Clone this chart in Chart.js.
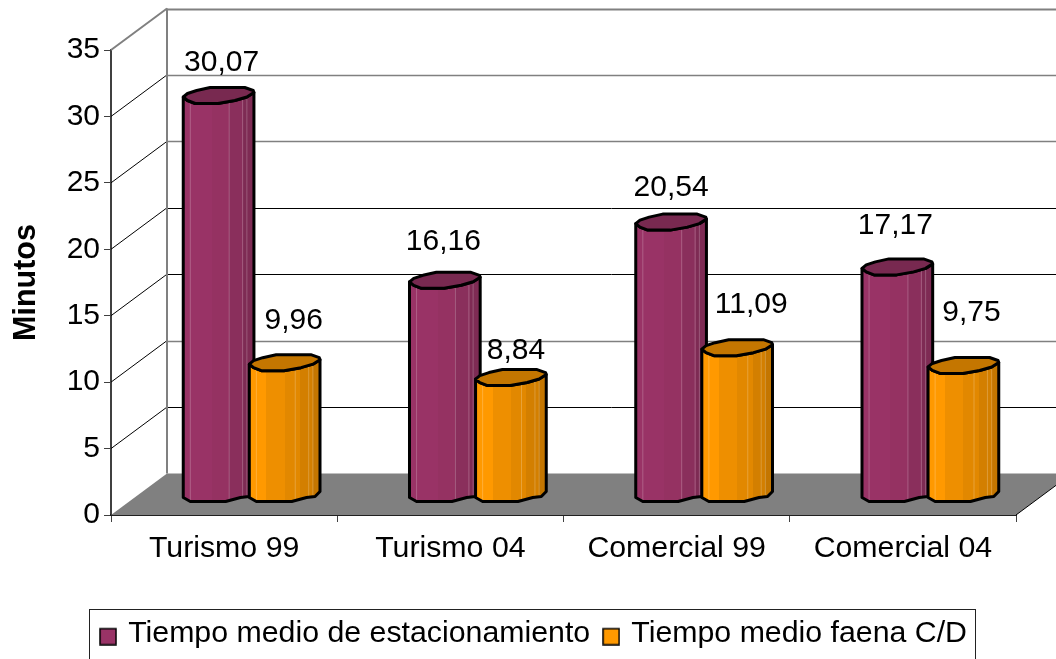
<!DOCTYPE html>
<html><head><meta charset="utf-8">
<style>html,body{margin:0;padding:0;background:#fff;overflow:hidden}canvas{display:block}</style>
<script src="https://cdn.jsdelivr.net/npm/chart.js@4/dist/chart.umd.min.js"></script>
</head><body>
<div style="width:1056px;height:659px"><canvas id="c" width="1056" height="659"></canvas></div>
<script>
const categories = ['Turismo 99', 'Turismo 04', 'Comercial 99', 'Comercial 04'];
const estacionamiento = [30.07, 16.16, 20.54, 17.17];
const faena = [9.96, 8.84, 11.09, 9.75];
const seriesNames = ['Tiempo medio de estacionamiento', 'Tiempo medio faena C/D'];
const seriesColors = ['#993366', '#FF9900'];
const rimColors = ['#782950', '#C47600'];
const stripColors = [
  [[0,'#993366'],[.4,'#953262'],[.65,'#8A2F5C'],[.85,'#7E2B54'],[1,'#732750']],
  [[0,'#FF9900'],[.24,'#EE8F00'],[.5,'#E28800'],[.72,'#D37F00'],[.9,'#C47600'],[1,'#C47600']]
];
const FONT = '"Liberation Sans", Arial, sans-serif';

// depth of the 3D box, px
const DEPTH_X = 56, DEPTH_Y = 41.5;
// bars stand part-way into the box
const BAR_DX = 27.5, BAR_DY = 20;
// hand placement of the value labels, in the original
const labelDX = [[3,-1.5,0,-2],[9,5,14,8]];
const labelDY = [[25,31,26,33],[34,19,35,45]];
const rimShape = [[0,1.5],[.06,-2],[.19,-5],[.38,-8],[.87,-8],[.99,-5],[1,-3],[.9,1.5],[.73,5],[.49,8],[.17,8],[.06,5]];
const footShape = [[1,-3],[.93,2],[.81,3],[.6,7],[.1,7],[0,3]];
const sheen = [.1,.65,.84,.9];

function marker(color){
  const m = document.createElement('canvas'); m.width = 18; m.height = 25;
  const g = m.getContext('2d');
  g.fillStyle = color; g.strokeStyle = '#000'; g.lineWidth = 1.5;
  g.fillRect(1,8,16,16); g.strokeRect(1,8,16,16);
  return m;
}

const scene = {
  id: 'scene',
  afterLayout(chart){
    const l = chart.legend;
    l.left += 27; l.right += 27; l.top = 602; l.bottom = 659;
  },
  beforeDatasetsDraw(chart){
    const {ctx, scales:{x, y}} = chart;
    const x0 = chart.chartArea.left, x1 = chart.chartArea.right, W = chart.width;
    const y0 = y.getPixelForValue(0);
    ctx.save();
    // floor
    ctx.fillStyle = '#808080';
    ctx.beginPath();
    ctx.moveTo(x0,y0); ctx.lineTo(x0+DEPTH_X,y0-DEPTH_Y); ctx.lineTo(x1+DEPTH_X,y0-DEPTH_Y); ctx.lineTo(x1,y0); ctx.closePath(); ctx.fill();
    // grid on the two walls
    y.ticks.forEach(t => {
      if (t.value === 0) return;
      const py = y.getPixelForValue(t.value);
      const top = t.value === y.max;
      ctx.strokeStyle = top ? '#808080' : '#000';
      ctx.lineWidth = top ? 2 : 1;
      ctx.beginPath();
      ctx.moveTo(x0,py); ctx.lineTo(x0+DEPTH_X,py-DEPTH_Y); ctx.stroke();
      ctx.strokeStyle = (top || t.value === 10 || t.value === 25 || t.value === 30) ? '#808080' : '#000';
      ctx.lineWidth = top ? 2 : (t.value === 10 || t.value === 25 || t.value === 30) ? 1.5 : 1;
      ctx.beginPath();
      ctx.moveTo(x0+DEPTH_X,Math.round(py-DEPTH_Y)+.5); ctx.lineTo(W,Math.round(py-DEPTH_Y)+.5); ctx.stroke();
    });
    ctx.strokeStyle = '#808080'; ctx.lineWidth = 2;
    ctx.beginPath();
    ctx.moveTo(x0+DEPTH_X,y.getPixelForValue(y.max)-DEPTH_Y); ctx.lineTo(x0+DEPTH_X,y0-DEPTH_Y); ctx.stroke();
    // front edge of the floor, right side
    ctx.strokeStyle = '#000'; ctx.lineWidth = 1;
    ctx.beginPath(); ctx.moveTo(x1,y0); ctx.lineTo(x1+DEPTH_X,y0-DEPTH_Y); ctx.stroke();

    // bars
    chart.data.datasets.forEach((ds,di) => {
      chart.getDatasetMeta(di).data.forEach(el => {
        const left = el.x + BAR_DX - el.width/2, w = el.width;
        const topY = el.y - BAR_DY, baseY = el.base - BAR_DY;
        const body = new Path2D();
        body.moveTo(left + w, topY - 3);
        footShape.forEach(p => body.lineTo(left + p[0]*w, baseY + p[1]));
        body.lineTo(left, topY + 1.5);
        [[.06,5],[.17,8],[.49,8],[.73,5],[.9,1.5]].forEach(p => body.lineTo(left + p[0]*w, topY + p[1]));
        body.closePath();
        const g = ctx.createLinearGradient(left,0,left+w,0);
        const st = stripColors[di];
        st.forEach((s,i) => {
          g.addColorStop(s[0], s[1]);
          if (i+1 < st.length) g.addColorStop(st[i+1][0], s[1]);
        });
        ctx.fillStyle = g; ctx.fill(body);
        ctx.save(); ctx.clip(body);
        ctx.strokeStyle = 'rgba(255,255,255,.22)'; ctx.lineWidth = 1;
        sheen.forEach(f => { ctx.beginPath(); ctx.moveTo(left+f*w,topY-10); ctx.lineTo(left+f*w,baseY+10); ctx.stroke(); });
        ctx.restore();
        ctx.strokeStyle = '#000'; ctx.lineWidth = 3; ctx.lineJoin = 'round';
        ctx.stroke(body);
        const rim = new Path2D();
        rimShape.forEach((p,i) => i ? rim.lineTo(left+p[0]*w, topY+p[1]) : rim.moveTo(left+p[0]*w, topY+p[1]));
        rim.closePath();
        ctx.fillStyle = rimColors[di]; ctx.fill(rim); ctx.stroke(rim);
      });
    });
    ctx.restore();
  },
  beforeDatasetDraw(){ return false; },
  afterDatasetsDraw(chart){
    const {ctx} = chart;
    ctx.save();
    ctx.fillStyle = '#000'; ctx.font = '30px ' + FONT; ctx.textAlign = 'center'; ctx.textBaseline = 'middle';
    chart.data.datasets.forEach((ds,di) => {
      chart.getDatasetMeta(di).data.forEach((el,i) => {
        const txt = ds.data[i].toFixed(2).replace('.', ',');
        ctx.fillText(txt, el.x + BAR_DX + labelDX[di][i], el.y - BAR_DY - 8 - labelDY[di][i]);
      });
    });
    ctx.restore();
  },
  afterDraw(chart){
    const {ctx} = chart;
    ctx.save();
    ctx.strokeStyle = '#222'; ctx.lineWidth = 1;
    ctx.strokeRect(89.5,609.5,886,70);
    ctx.restore();
  }
};

new Chart(document.getElementById('c'), {
  type: 'bar',
  data: {
    labels: categories,
    datasets: [
      {label: seriesNames[0], data: estacionamiento, backgroundColor: seriesColors[0], categoryPercentage: .584, barPercentage: 1.07},
      {label: seriesNames[1], data: faena, backgroundColor: seriesColors[1], categoryPercentage: .584, barPercentage: 1.07}
    ]
  },
  options: {
    responsive: false, animation: false,
    layout: {padding: {top: 50, right: 40, left: 0, bottom: 0}},
    font: {family: FONT},
    plugins: {
      tooltip: {enabled: false},
      legend: {
        position: 'bottom',
        labels: {
          color: '#000', font: {family: FONT, size: 30.3}, boxWidth: 10, padding: 16, usePointStyle: true,
          generateLabels: c => c.data.datasets.map((d,i) => ({
            text: d.label, datasetIndex: i, pointStyle: marker(seriesColors[i]), fontColor: '#000', lineWidth: 0, strokeStyle: 'transparent', fillStyle: seriesColors[i]
          }))
        }
      }
    },
    scales: {
      y: {
        min: 0, max: 35,
        ticks: {stepSize: 5, color: '#000', font: {family: FONT, size: 30}, padding: 4},
        grid: {drawOnChartArea: false, color: '#404040', tickLength: 7, lineWidth: 1},
        border: {color: '#404040', width: 2},
        title: {display: true, text: 'Minutos', color: '#000', font: {family: FONT, size: 30.5, weight: 'bold'}, padding: {top: 8, bottom: 0}},
        afterFit(s){ s.width = 111; }
      },
      x: {
        ticks: {color: '#000', font: {family: FONT, size: 30.3}, padding: 8, maxRotation: 0},
        grid: {drawOnChartArea: false, color: '#404040', tickLength: 7, lineWidth: 1},
        border: {color: '#202020', width: 2},
        afterFit(s){ s.height = 659 - 515 - s.chart.legend.height; }
      }
    }
  },
  plugins: [scene]
});
</script>
</body></html>
